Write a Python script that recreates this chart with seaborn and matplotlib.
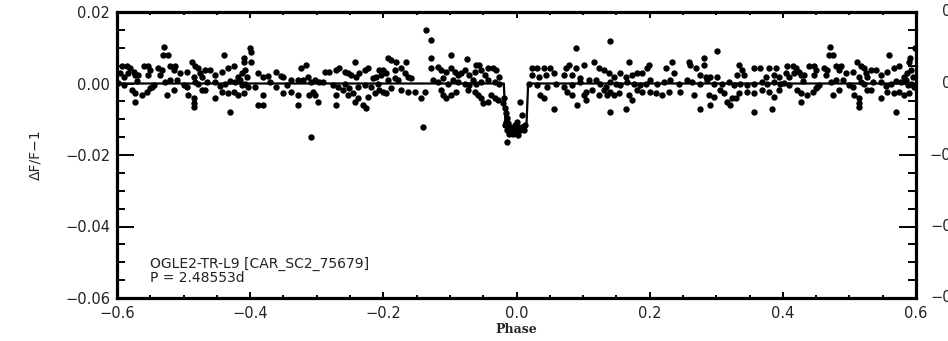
import numpy as np
import pandas as pd
import matplotlib
matplotlib.use("Agg")
import matplotlib.pyplot as plt
import seaborn as sns
from matplotlib.ticker import FixedLocator, MultipleLocator

# Phase-folded photometry, one full cycle from -0.6 to 0.4 (relative flux in parts per thousand)
phase_obs = [
    -0.529, -0.531, -0.524, -0.440, -0.409, -0.410, -0.593, -0.585, -0.580, -0.575,
    -0.583, -0.573, -0.590, -0.595, -0.568, -0.560, -0.553, -0.550, -0.553, -0.538,
    -0.533, -0.535, -0.520, -0.513, -0.515, -0.505, -0.495, -0.488, -0.483, -0.478,
    -0.475, -0.468, -0.460, -0.473, -0.485, -0.453, -0.443, -0.433, -0.425, -0.418,
    -0.413, -0.408, -0.405, -0.598, -0.528, -0.520, -0.510, -0.483, -0.478, -0.453,
    -0.438, -0.423, -0.415, -0.408, -0.578, -0.573, -0.563, -0.555, -0.550, -0.525,
    -0.515, -0.495, -0.493, -0.485, -0.485, -0.485, -0.473, -0.468, -0.453, -0.443,
    -0.433, -0.425, -0.418, -0.410, -0.430, -0.573, -0.548, -0.590, -0.570, -0.545,
    -0.500, -0.465, -0.445, -0.430, -0.412,
    -0.401, -0.398, -0.398, -0.388, -0.381, -0.373, -0.361, -0.353, -0.351, -0.323,
    -0.316, -0.338, -0.328, -0.321, -0.313, -0.308, -0.303, -0.296, -0.288, -0.281,
    -0.271, -0.266, -0.258, -0.253, -0.248, -0.243, -0.241, -0.236, -0.228, -0.223,
    -0.216, -0.211, -0.206, -0.203, -0.403, -0.393, -0.381, -0.361, -0.351, -0.338,
    -0.328, -0.311, -0.306, -0.303, -0.298, -0.271, -0.261, -0.253, -0.246, -0.243,
    -0.238, -0.231, -0.226, -0.223, -0.213, -0.206, -0.388, -0.381, -0.328, -0.271,
    -0.308, -0.276, -0.268, -0.258, -0.251, -0.238, -0.228, -0.218, -0.208, -0.370,
    -0.345, -0.290,
    -0.136, -0.128, -0.129, -0.098, -0.074, -0.193, -0.188, -0.181, -0.166, -0.201,
    -0.196, -0.183, -0.173, -0.168, -0.163, -0.158, -0.193, -0.183, -0.178, -0.128,
    -0.118, -0.113, -0.106, -0.098, -0.093, -0.088, -0.083, -0.078, -0.071, -0.063,
    -0.061, -0.056, -0.053, -0.048, -0.043, -0.036, -0.031, -0.026, -0.126, -0.118,
    -0.111, -0.103, -0.096, -0.088, -0.078, -0.071, -0.066, -0.061, -0.053, -0.043,
    -0.033, -0.026, -0.201, -0.196, -0.188, -0.173, -0.163, -0.153, -0.143, -0.138,
    -0.113, -0.111, -0.106, -0.098, -0.091, -0.073, -0.063, -0.058, -0.053, -0.051,
    -0.043, -0.033, -0.038, -0.028, -0.141,
    -0.0198, -0.019, -0.0173, -0.016, -0.015, -0.016, -0.0123, -0.010, -0.015, -0.005,
    0.0002, 0.005, 0.010, 0.0077, 0.006, -0.005, -0.014, -0.010, -0.0023, 0.0027,
    0.0127, 0.001, 0.009, -0.008, -0.012, 0.003, -0.017, 0.011,
    0.141, 0.089, 0.024, 0.031, 0.041, 0.051, 0.024, 0.034, 0.044, 0.056,
    0.074, 0.079, 0.089, 0.101, 0.116, 0.124, 0.131, 0.139, 0.146, 0.156,
    0.164, 0.169, 0.174, 0.181, 0.189, 0.196, 0.071, 0.084, 0.096, 0.019,
    0.031, 0.046, 0.059, 0.071, 0.084, 0.096, 0.109, 0.119, 0.126, 0.134,
    0.141, 0.149, 0.156, 0.166, 0.176, 0.186, 0.194, 0.036, 0.041, 0.076,
    0.084, 0.101, 0.104, 0.114, 0.124, 0.131, 0.136, 0.141, 0.146, 0.154,
    0.169, 0.174, 0.181, 0.189, 0.091, 0.104, 0.056, 0.141, 0.164,
    0.301, 0.199, 0.224, 0.234, 0.236, 0.259, 0.261, 0.269, 0.281, 0.281,
    0.276, 0.284, 0.291, 0.301, 0.334, 0.339, 0.331, 0.341, 0.356, 0.366,
    0.374, 0.379, 0.389, 0.386, 0.394, 0.201, 0.211, 0.221, 0.231, 0.244,
    0.256, 0.264, 0.276, 0.286, 0.296, 0.309, 0.319, 0.326, 0.336, 0.346,
    0.356, 0.369, 0.376, 0.386, 0.396, 0.201, 0.209, 0.219, 0.229, 0.246,
    0.266, 0.289, 0.296, 0.306, 0.311, 0.316, 0.324, 0.329, 0.321, 0.334,
    0.346, 0.356, 0.369, 0.379, 0.386, 0.394, 0.276, 0.291, 0.356, 0.384,
]
dflux_ppt = [
    10.1, 8.0, 8.0, 8.0, 7.0, 6.1, 5.0, 5.0, 4.2, 3.3,
    2.9, 2.4, 1.9, 2.9, 2.4, 5.0, 5.0, 3.8, 2.4, 4.2,
    3.8, 2.4, 5.0, 5.0, 3.8, 2.9, 3.3, 6.1, 5.0, 4.2,
    2.9, 3.8, 3.8, 1.9, 1.9, 2.4, 3.3, 4.2, 5.0, 1.9,
    2.9, 3.8, 1.9, 0.05, 0.5, 1.0, 1.0, 0.5, 0.0, 0.5,
    0.0, 0.5, 1.0, 0.0, -1.8, -2.7, -3.2, -2.3, -1.3, -3.2,
    -1.8, -0.9, -3.2, -4.1, -5.5, -6.5, -1.8, -1.8, -4.1, -2.3,
    -2.7, -2.3, -3.2, -2.7, -8.0, -5.1, -0.9, -0.5, 0.8, -0.4,
    -0.5, 0.3, -0.6, 0.8, -0.3,
    9.8, 8.9, 6.1, 2.9, 1.9, 2.2, 3.1, 2.2, 1.9, 4.2,
    5.2, 1.0, 1.0, 1.0, 1.9, 0.5, 1.0, 0.5, 3.1, 3.1,
    3.8, 4.2, 3.3, 2.9, 2.4, 6.1, 1.9, 2.9, 3.8, 4.2,
    1.5, 1.9, 3.8, 2.4, -0.9, -0.9, -3.2, -0.9, -2.7, -2.3,
    -3.2, -3.2, -2.3, -3.2, -5.1, -3.2, -1.8, -3.2, -2.7, -5.1,
    -4.1, -6.0, -6.9, -3.7, -2.7, -1.8, -6.0, -6.0, -6.0, -6.0,
    -15.1, -0.4, -0.9, 0.0, -1.3, -0.9, -0.4, -0.9, 0.0, 0.4,
    -0.5, 0.3,
    15.0, 12.2, 7.0, 8.0, 6.9, 7.0, 6.6, 6.1, 6.1, 3.8,
    2.9, 3.8, 4.2, 2.9, 1.9, 1.5, 1.0, 1.5, 1.0, 4.2,
    4.7, 3.8, 3.3, 4.2, 3.3, 2.4, 2.9, 3.8, 2.4, 3.3,
    5.2, 5.2, 3.8, 2.4, 4.2, 4.2, 3.8, 1.9, 1.0, 0.5,
    1.4, 0.0, 1.0, 0.5, 0.0, -0.4, 1.0, 0.0, 0.5, 1.0,
    0.5, 0.0, -2.3, -2.7, -1.3, -1.8, -2.3, -2.3, -4.1, -2.3,
    -1.8, -3.2, -4.1, -3.2, -2.3, -1.8, -2.3, -3.2, -4.1, -5.5,
    -5.1, -4.1, -3.2, -4.6, -12.1,
    -5.5, -4.1, -6.9, -8.3, -9.7, -10.7, -11.1, -12.1, -13.0, -12.5,
    -13.5, -13.0, -12.5, -8.8, -5.1, -14.0, -16.3, -13.5, -11.6, -12.1,
    -11.6, -10.7, -12.1, -12.8, -14.2, -14.4, -11.6, -13.0,
    11.9, 10.0, 4.2, 4.2, 4.2, 4.2, 2.4, 1.9, 2.4, 2.9,
    4.2, 5.2, 4.2, 5.2, 6.1, 4.2, 3.8, 2.9, 1.9, 2.9,
    1.9, 6.1, 2.4, 2.9, 2.9, 4.2, 2.4, 2.4, 1.5, 0.0,
    -0.4, -0.9, 0.0, -0.9, -0.4, 0.5, 1.0, 1.0, 0.0, -0.9,
    0.5, 0.0, -0.4, 0.5, 0.0, -0.4, 0.0, -3.2, -4.1, -2.3,
    -3.2, -3.2, -2.3, -1.8, -3.2, -1.8, -3.2, -2.3, -3.2, -2.7,
    -3.2, -4.6, -1.8, -2.3, -6.0, -4.6, -7.1, -8.0, -7.1,
    9.1, 5.2, 4.2, 6.1, 2.9, 6.1, 5.2, 4.2, 7.0, 5.2,
    2.4, 1.9, 1.9, 1.9, 5.2, 3.8, 2.4, 2.4, 4.2, 4.2,
    1.9, 4.2, 4.2, 2.4, 1.9, 1.0, 0.0, 0.5, 1.0, 0.0,
    1.0, 0.5, 0.0, 1.0, 0.0, 0.0, 0.5, -0.4, 0.0, -0.4,
    0.0, 0.5, 0.0, 0.5, 0.0, -2.3, -2.7, -3.2, -2.3, -2.3,
    -3.2, -3.2, -3.7, -1.8, -2.7, -5.1, -4.1, -4.1, -6.0, -2.7,
    -2.3, -2.7, -1.8, -2.3, -3.7, -1.8, -7.1, -6.0, -8.0, -7.1,
]

# Transit model (phase, relative flux)
model_phase = [-0.6, -0.0190, -0.0165, 0.0, 0.0150, 0.0175, 0.6]
model_dflux = [0.0, 0.0, -0.0115, -0.0122, -0.0115, 0.0, 0.0]

xtick_values = [-0.6, -0.4, -0.2, 0.0, 0.2, 0.4, 0.6]
xtick_labels = ["\u22120.6", "\u22120.4", "\u22120.2", "0.0", "0.2", "0.4", "0.6"]
ytick_values = [0.02, 0.00, -0.02, -0.04, -0.06]
ytick_labels = ["0.02", "0.00", "\u22120.02", "\u22120.04", "\u22120.06"]

star_name = "OGLE2-TR-L9 [CAR_SC2_75679]"
period_text = "P = 2.48553d"

obs = pd.DataFrame({"phase": phase_obs, "dflux": np.array(dflux_ppt) / 1000.0})
# repeat the start of the cycle past phase 0.4 so the fold covers -0.6 .. 0.6
wrapped = obs[obs["phase"] < -0.4].assign(phase=lambda d: d["phase"] + 1.0)
obs = pd.concat([obs, wrapped], ignore_index=True)
model = pd.DataFrame({"phase": model_phase, "dflux": model_dflux})

sns.set_style("ticks")
plt.rcParams["font.family"] = ["DejaVu Sans"]

fig = plt.figure(figsize=(9.48, 3.41), dpi=100)
ax = fig.add_axes([117 / 948, 1 - 298 / 341, (916 - 117) / 948, (298 - 12) / 341])

sns.scatterplot(data=obs, x="phase", y="dflux", ax=ax, color="black",
                s=21, linewidth=0, legend=False, zorder=3)
sns.lineplot(data=model, x="phase", y="dflux", ax=ax, color="black",
             linewidth=1.6, sort=False, estimator=None, zorder=4)

ax.set_xlim(-0.6, 0.6)
ax.set_ylim(-0.06, 0.02)
ax.xaxis.set_major_locator(FixedLocator(xtick_values))
ax.set_xticklabels(xtick_labels)
ax.yaxis.set_major_locator(FixedLocator(ytick_values))
ax.set_yticklabels(ytick_labels)
ax.xaxis.set_minor_locator(MultipleLocator(0.05))
ax.yaxis.set_minor_locator(MultipleLocator(0.005))

for side in ["left", "right", "top", "bottom"]:
    ax.spines[side].set_visible(True)
    ax.spines[side].set_linewidth(2.3)
    ax.spines[side].set_color("black")

ax.tick_params(axis="both", which="both", direction="in", top=True, right=True,
               color="black", width=1.4, labelsize=10.5, labelcolor="#222222")
ax.tick_params(axis="x", which="major", length=4, pad=6)
ax.tick_params(axis="x", which="minor", length=2.5)
ax.tick_params(axis="y", which="major", length=12, pad=5)
ax.tick_params(axis="y", which="minor", length=6)

ax.set_xlabel("Phase", fontsize=9, fontweight="bold", family="DejaVu Serif", labelpad=1)
ax.set_ylabel("\u0394F/F\u22121", fontsize=10, labelpad=16)

ax.text(-0.551, -0.0516, star_name, fontsize=10, color="#222222", va="baseline")
ax.text(-0.551, -0.0555, period_text, fontsize=10, color="#222222", va="baseline")

# tick labels of the neighbouring panel, cut by the figure edge
for v, lab in zip(ytick_values, ytick_labels):
    fy = (1 - 298 / 341) + (v + 0.06) / 0.08 * (298 - 12) / 341
    fig.text(975 / 948, fy, lab, fontsize=10.5, ha="right", va="center", color="#222222")

fig.savefig("out.png", dpi=100)
